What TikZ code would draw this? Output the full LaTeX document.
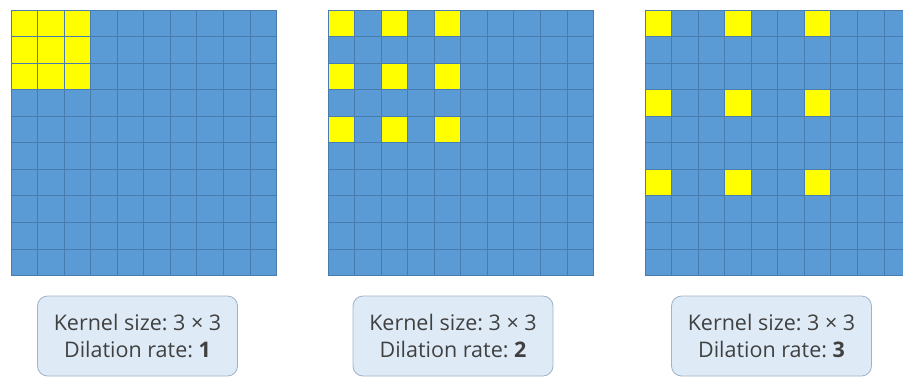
\documentclass[tikz,border=0pt]{standalone}
\usepackage{fontspec}
\setmainfont{Open Sans}
\usepackage{tikz}
\usetikzlibrary{positioning}
\definecolor{cellblue}{RGB}{91, 155, 213}
\definecolor{gridblue}{RGB}{72, 124, 175}
\definecolor{kernyellow}{RGB}{255, 255, 0}
\definecolor{boxfill}{RGB}{222, 235, 247}
\definecolor{boxedge}{RGB}{160, 178, 200}
\definecolor{labelgray}{RGB}{64, 64, 64}
\frenchspacing

\begin{document}
\begin{tikzpicture}[x=1pt, y=-1pt,
  gridline/.style={gridblue, line width=0.8pt},
  infobox/.style={draw=boxedge, fill=boxfill, rounded corners=10pt,
    minimum width=200pt, minimum height=80pt, align=center,
    text=labelgray, font=\fontsize{21.5}{27}\selectfont, line width=0.8pt}]

  \useasboundingbox (0,0) rectangle (903,376);
  \clip (0,0) rectangle (903,376);

  % --- three 10x10 inputs, kernel spread by dilation rate ---
  \foreach \ox/\d in {11/1, 328/2, 645/3} {
    \begin{scope}[shift={(\ox,10)}, x=26.55pt, y=-26.55pt]
      \fill[cellblue] (0,0) rectangle (10,10);
      \foreach \r in {0,1,2}
        \foreach \c in {0,1,2}
          \fill[kernyellow] (\c*\d,\r*\d) rectangle ++(1,1);
      \foreach \i in {1,...,9} {
        \draw[gridline] (\i,0) -- (\i,10);
        \draw[gridline] (0,\i) -- (10,\i);
      }
      \draw[gridline] (0,0) rectangle (10,10);
    \end{scope}
  }

  % --- captions ---
  \node[infobox] (rate1) at (137.5,336) {Kernel size: 3 × 3\\Dilation rate: \textbf{1}};
  \node[infobox] (rate2) at (453,336) {Kernel size: 3 × 3\\Dilation rate: \textbf{2}};
  \node[infobox] (rate3) at (771.5,336) {Kernel size: 3 × 3\\Dilation rate: \textbf{3}};

\end{tikzpicture}
\end{document}
